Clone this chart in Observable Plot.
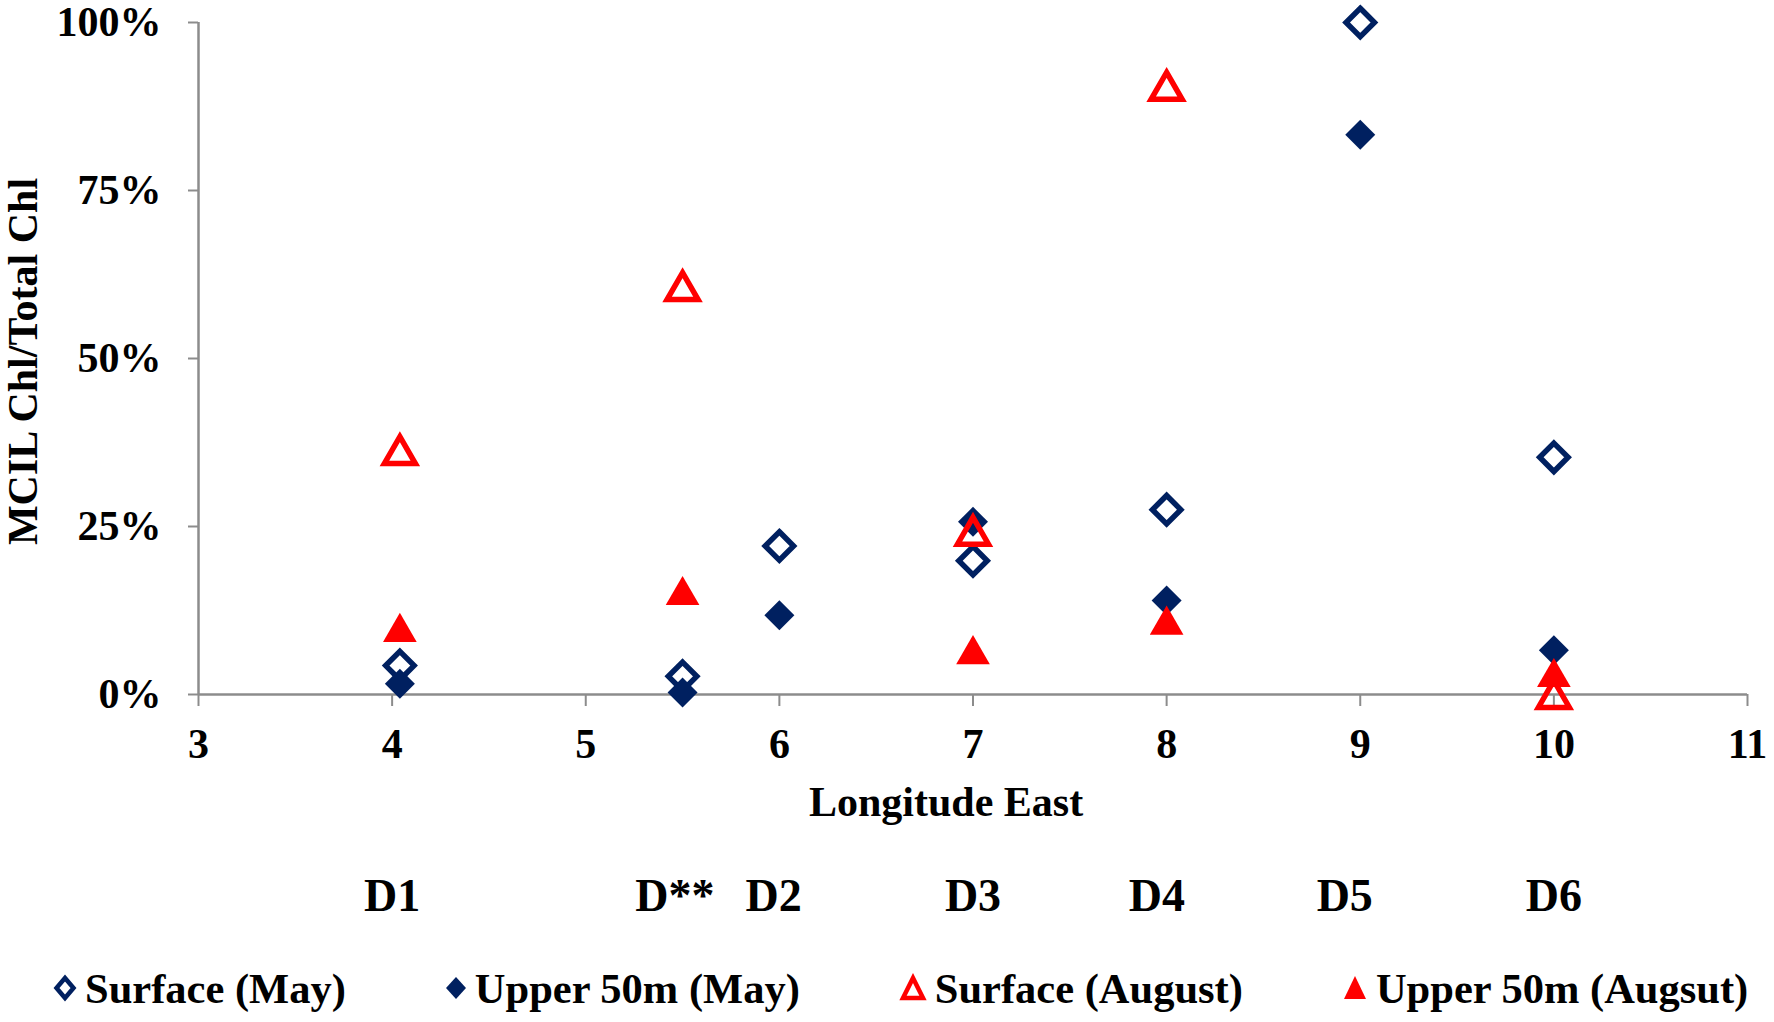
<!DOCTYPE html>
<html>
<head>
<meta charset="utf-8">
<script src="https://cdn.jsdelivr.net/npm/d3@7"></script>
<script src="https://cdn.jsdelivr.net/npm/@observablehq/plot@0.6"></script>
<style>
  html, body { margin: 0; padding: 0; background: #fff; }
  #chart svg { display: block; }
  #legend {
    display: flex; align-items: center; height: 60px; padding-top: 18px;
    padding-left: 52px; gap: 98px;
    font-family: "Liberation Serif", serif; font-weight: bold; font-size: 42.5px; color: #000;
  }
  .item { display: flex; align-items: center; white-space: nowrap; }
  .item svg { margin-right: 7px; }
</style>
</head>
<body>
<div id="chart"></div>
<div id="legend"></div>
<script>
// ---- data ----
const seriesNames = ["Surface (May)", "Upper 50m (May)", "Surface (August)", "Upper 50m (Augsut)"];
const surfMayX = [4.04, 5.5, 6, 7, 8, 9, 10];
const surfMayY = [4.3, 2.7, 22.1, 19.9, 27.5, 100, 35.3];
const upMayX   = [4.04, 5.5, 6, 7, 8, 9, 10];
const upMayY   = [1.6, 0.3, 11.8, 25.7, 14.0, 83.3, 6.6];
const surfAugX = [4.04, 5.5, 7, 8, 10];
const surfAugY = [36.3, 60.7, 24.3, 90.5, 0];
const upAugX   = [4.04, 5.5, 7, 8, 10];
const upAugY   = [10.0, 15.5, 6.7, 11.1, 3.3];
const stationLabels = ["D1", "D**", "D2", "D3", "D4", "D5", "D6"];
const stationX = [4, 5.46, 5.97, 7, 7.95, 8.92, 10];
const xTicks = [3, 4, 5, 6, 7, 8, 9, 10, 11];
const yTicks = [0, 25, 50, 75, 100];
const xTitle = "Longitude East";
const yTitle = "MCIL Chl/Total Chl";

const NAVY = "#002060", RED = "#FF0000", AXIS = "#8c8c8c";
const toRows = (xs, ys) => xs.map((x, i) => ({x, y: ys[i]}));

const plot = Plot.plot({
  width: 1774,
  height: 940,
  marginLeft: 198,
  marginRight: 27,
  marginTop: 22,
  marginBottom: 246,
  x: {domain: [3, 11]},
  y: {domain: [0, 100]},
  style: {fontFamily: "Liberation Serif, serif", fontWeight: "bold", fontSize: "42px", color: "#000", background: "#fff", overflow: "visible"},
  marks: [
    Plot.ruleY([0], {stroke: AXIS, strokeWidth: 2.5}),
    Plot.ruleX([3], {stroke: AXIS, strokeWidth: 2.5}),
    Plot.axisX({ticks: xTicks, tickSize: 12, tickPadding: 22, stroke: AXIS, strokeWidth: 2, label: null, tickFormat: d => String(d)}),
    Plot.axisY({ticks: yTicks, tickSize: 10, tickPadding: 27, stroke: AXIS, strokeWidth: 2, label: null, tickFormat: d => d + "%"}),
    Plot.dot(toRows(surfMayX, surfMayY), {x: "x", y: "y", symbol: "diamond2", r: 12.8, stroke: NAVY, strokeWidth: 5.5, fill: "none"}),
    Plot.dot(toRows(upMayX, upMayY), {x: "x", y: "y", symbol: "diamond2", r: 13.5, fill: NAVY, stroke: "none"}),
    Plot.dot(toRows(surfAugX, surfAugY), {x: "x", y: "y", symbol: "triangle", r: 11.5, stroke: RED, strokeWidth: 5.5, fill: "none", dy: 4}),
    Plot.dot(toRows(upAugX, upAugY), {x: "x", y: "y", symbol: "triangle", r: 12.5, fill: RED, stroke: "none", dy: 5}),
    Plot.text(stationLabels, {x: (d, i) => stationX[i], frameAnchor: "bottom", dy: 202, text: d => d, fontSize: 46, lineAnchor: "middle", fill: "#000"}),
    Plot.text([xTitle], {frameAnchor: "bottom", dx: -27, dy: 108, text: d => d, fontSize: 42, lineAnchor: "middle", fill: "#000"}),
    Plot.text([yTitle], {frameAnchor: "left", textAnchor: "middle", rotate: -90, dx: -175, dy: 3, text: d => d, fontSize: 42, lineAnchor: "middle", fill: "#000"})
  ]
});
document.getElementById("chart").appendChild(plot);

// ---- legend ----
const symbols = [
  '<svg width="26" height="30" viewBox="-13 -15 26 30"><path d="M0,-10L8.5,0L0,10L-8.5,0Z" fill="none" stroke="' + NAVY + '" stroke-width="4.5"/></svg>',
  '<svg width="24" height="30" viewBox="-12 -15 24 30"><path d="M0,-11L10,0L0,11L-10,0Z" fill="' + NAVY + '"/></svg>',
  '<svg width="30" height="30" viewBox="-15 -15 30 30"><path d="M0,-10L10,10L-10,10Z" fill="none" stroke="' + RED + '" stroke-width="4.5"/></svg>',
  '<svg width="28" height="30" viewBox="-14 -15 28 30"><path d="M0,-12L11,11L-11,11Z" fill="' + RED + '"/></svg>'
];
const legend = document.getElementById("legend");
seriesNames.forEach((name, i) => {
  const item = document.createElement("div");
  item.className = "item";
  item.innerHTML = symbols[i] + "<span>" + name + "</span>";
  legend.appendChild(item);
});
</script>
</body>
</html>
